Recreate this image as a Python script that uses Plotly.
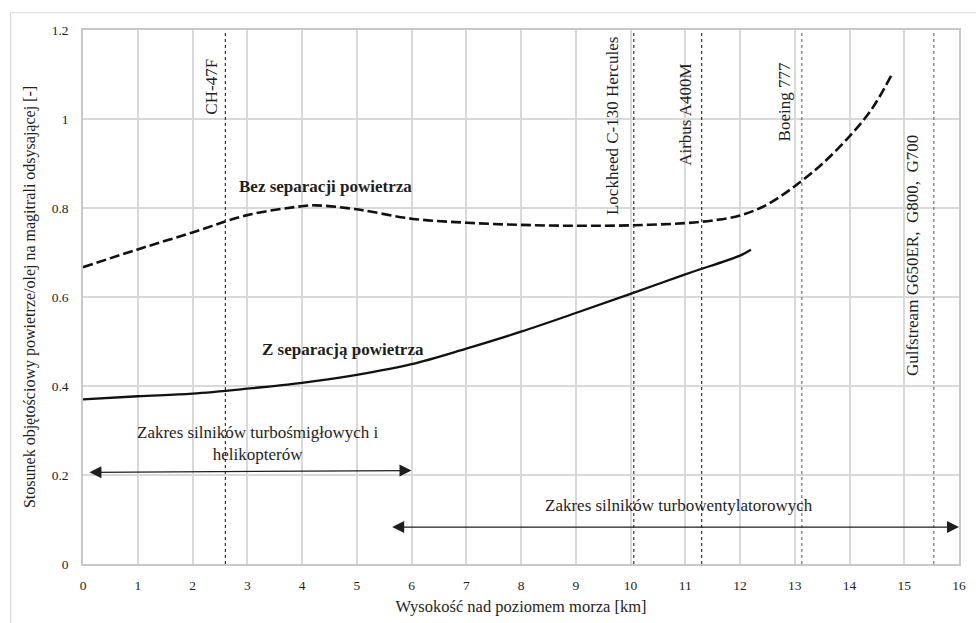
import plotly.graph_objects as go

# Altitude grid [km] and air/oil volume ratio for the two scavenge-line variants
alt_no_sep = [0, 1, 2, 3, 4, 4.25, 5, 6, 7, 8, 9, 10, 11, 11.5, 12, 12.5, 13, 13.5, 14, 14.4, 14.76]
ratio_no_sep = [0.667, 0.707, 0.745, 0.784, 0.804, 0.806, 0.797, 0.776, 0.767, 0.762,
                0.760, 0.761, 0.766, 0.772, 0.783, 0.808, 0.849, 0.899, 0.961, 1.021, 1.097]

alt_sep = [0, 1, 2, 3, 4, 5, 6, 7, 8, 9, 10, 11, 12, 12.2]
ratio_sep = [0.370, 0.377, 0.383, 0.394, 0.407, 0.425, 0.449, 0.484, 0.522, 0.564, 0.607,
             0.651, 0.693, 0.706]

# Service ceilings of selected aircraft [km]
aircraft = ["CH-47F", "Lockheed C-130 Hercules", "Airbus A400M", "Boeing 777",
            "Gulfstream G650ER,  G800,  G700"]
ceiling_km = [2.6, 10.06, 11.3, 13.13, 15.54]
label_x = [2.34, 9.66, 11.0, 12.81, 15.14]
label_y = [1.073, 0.984, 1.01, 1.038, 0.694]
line_colors = ["#222222", "#222222", "#222222", "#666666", "#666666"]

# Engine-type altitude ranges [km]
turboprop_range = [0.09, 6.0]
turboprop_y = [0.206, 0.210]
turbofan_range = [5.62, 16.0]
turbofan_y = [0.083, 0.083]

x_ticks = list(range(0, 17))
y_ticks = [0, 0.2, 0.4, 0.6, 0.8, 1.0, 1.2]
y_tick_text = ["0", "0.2", "0.4", "0.6", "0.8", "1", "1.2"]

SERIF = "Liberation Serif, Times New Roman, serif"
INK = "#1e1e1e"

fig = go.Figure()

fig.add_trace(go.Scatter(
    x=alt_no_sep, y=ratio_no_sep, mode="lines",
    line=dict(color="#111111", width=2.6, dash="10px,4px", shape="spline", smoothing=1.0),
    hoverinfo="skip", showlegend=False))

fig.add_trace(go.Scatter(
    x=alt_sep, y=ratio_sep, mode="lines",
    line=dict(color="#111111", width=2.3, shape="spline", smoothing=1.0),
    hoverinfo="skip", showlegend=False))

shapes = []
for xk, col in zip(ceiling_km, line_colors):
    shapes.append(dict(type="line", xref="x", yref="y", x0=xk, x1=xk, y0=0, y1=1.2,
                       line=dict(color=col, width=1.1, dash="dot"), layer="above"))

# outer chart border
shapes.append(dict(type="rect", xref="paper", yref="paper",
                   x0=-0.0827, x1=1.2, y0=-0.3, y1=1.0323,
                   line=dict(color="#d9d9d9", width=1.2), layer="below"))

annotations = []
for name, lx, ly in zip(aircraft, label_x, label_y):
    annotations.append(dict(x=lx, y=ly, xref="x", yref="y", text=name, textangle=-90,
                            showarrow=False, xanchor="center", yanchor="middle",
                            font=dict(family=SERIF, size=17, color=INK)))

annotations += [
    dict(x=4.42, y=0.848, xref="x", yref="y", text="<b>Bez separacji powietrza</b>",
         showarrow=False, font=dict(family=SERIF, size=17, color=INK)),
    dict(x=4.74, y=0.482, xref="x", yref="y", text="<b>Z separacją powietrza</b>",
         showarrow=False, font=dict(family=SERIF, size=17, color=INK)),
    dict(x=3.2, y=0.270, xref="x", yref="y",
         text="Zakres silników turbośmigłowych i<br>helikopterów",
         showarrow=False, align="center",
         font=dict(family=SERIF, size=17, color=INK)),
    dict(x=10.89, y=0.132, xref="x", yref="y", text="Zakres silników turbowentylatorowych",
         showarrow=False, font=dict(family=SERIF, size=17, color=INK)),
]

for xr, yr in ((turboprop_range, turboprop_y), (turbofan_range, turbofan_y)):
    annotations.append(dict(
        x=xr[1], y=yr[1], ax=xr[0], ay=yr[0], xref="x", yref="y", axref="x", ayref="y",
        text="", showarrow=True, arrowside="end+start",
        arrowhead=2, startarrowhead=2, arrowsize=2.0, startarrowsize=2.0,
        arrowwidth=1.2, arrowcolor=INK, standoff=0, startstandoff=0))

fig.update_layout(
    width=976, height=623,
    margin=dict(l=83, r=10, t=30, b=57),
    paper_bgcolor="white", plot_bgcolor="white",
    shapes=shapes, annotations=annotations,
    xaxis=dict(range=[0, 16], tickvals=x_ticks, ticks="", showgrid=True,
               gridcolor="#d9d9d9", gridwidth=1.6, zeroline=False,
               showline=True, linecolor="#c8c8c8", linewidth=1.6, mirror=True,
               tickfont=dict(family=SERIF, size=13.5, color=INK), ticklabelstandoff=8,
               title=dict(text="Wysokość nad poziomem morza [km]", standoff=8,
                          font=dict(family=SERIF, size=16.5, color=INK))),
    yaxis=dict(range=[0, 1.2], tickvals=y_ticks, ticktext=y_tick_text, ticks="",
               showgrid=True, gridcolor="#d9d9d9", gridwidth=1.6, zeroline=False,
               showline=True, linecolor="#c8c8c8", linewidth=1.6, mirror=True,
               tickfont=dict(family=SERIF, size=13.5, color=INK), ticklabelstandoff=10,
               title=dict(text="Stosunek objętościowy powietrze/olej na magitrali odsysającej [-]",
                          standoff=12, font=dict(family=SERIF, size=16, color=INK))),
)

fig.write_html("out.html")
